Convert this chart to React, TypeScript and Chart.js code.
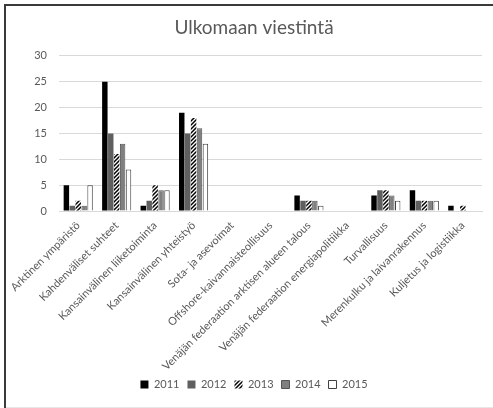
import React, { useEffect, useRef } from "react";
import { Chart, registerables } from "chart.js";

Chart.register(...registerables);

const TITLE = "Ulkomaan viestintä";
const categories = [
  "Arktinen ympäristö",
  "Kahdenväliset suhteet",
  "Kansainvälinen liiketoiminta",
  "Kansainvälinen yhteistyö",
  "Sota- ja asevoimat",
  "Offshore-kaivannaisteollisuus",
  "Venäjän federaation arktisen alueen talous",
  "Venäjän federaation energiapolitiikka",
  "Turvallisuus",
  "Merenkulku ja laivanrakennus",
  "Kuljetus ja logistiikka",
];
const seriesNames = ["2011", "2012", "2013", "2014", "2015"];
const d2011 = [5, 25, 1, 19, 0, 0, 3, 0, 3, 4, 1];
const d2012 = [1, 15, 2, 15, 0, 0, 2, 0, 4, 2, 0];
const d2013 = [2, 11, 5, 18, 0, 0, 2, 0, 4, 2, 1];
const d2014 = [1, 13, 4, 16, 0, 0, 2, 0, 3, 2, 0];
const d2015 = [5, 8, 4, 13, 0, 0, 1, 0, 2, 2, 0];
const yTicks = { min: 0, max: 30, step: 5 };

const FONT = "Lato, 'Open Sans', sans-serif";
const TEXT = "#595959";

function makeHatch(): CanvasPattern | string {
  const c = document.createElement("canvas");
  c.width = 4;
  c.height = 4;
  const g = c.getContext("2d");
  if (!g) return "#000";
  g.fillStyle = "#fff";
  g.fillRect(0, 0, 4, 4);
  g.strokeStyle = "#000";
  g.lineWidth = 1.5;
  g.beginPath();
  g.moveTo(0, 4);
  g.lineTo(4, 0);
  g.moveTo(-1, 1);
  g.lineTo(1, -1);
  g.moveTo(3, 5);
  g.lineTo(5, 3);
  g.stroke();
  return g.createPattern(c, "repeat") || "#000";
}

const framePlugin = {
  id: "frame",
  beforeDraw(chart: any) {
    const ctx = chart.ctx;
    ctx.save();
    ctx.fillStyle = "#fff";
    ctx.fillRect(0, 0, chart.width, chart.height);
    ctx.fillStyle = "#3a3a3a";
    ctx.fillRect(4, 4, 2, chart.height - 4);
    ctx.fillRect(4, 4, chart.width - 4, 2);
    ctx.fillStyle = "#e6e6e6";
    ctx.fillRect(6, chart.height - 1, chart.width - 6, 1);
    ctx.restore();
  },
};

export default function App() {
  const ref = useRef<HTMLCanvasElement>(null);
  useEffect(() => {
    if (!ref.current) return;
    const hatch = makeHatch();
    const values = [d2011, d2012, d2013, d2014, d2015];
    const bg: any[] = ["#000000", "#5f5f5f", hatch, "#808080", "#ffffff"];
    const bc = ["#000000", "#5f5f5f", "#000000", "#555555", "#404040"];
    const bw = [0, 0, 0, 1, 1];
    const chart = new Chart(ref.current, {
      type: "bar",
      data: {
        labels: categories,
        datasets: seriesNames.map((n, i) => ({
          label: n,
          data: values[i],
          backgroundColor: bg[i],
          borderColor: bc[i],
          borderWidth: bw[i],
          categoryPercentage: 0.77,
          barPercentage: 0.92,
        })),
      },
      options: {
        responsive: false,
        animation: false,
        layout: { padding: { left: 26, right: 11, top: 0, bottom: 8 } },
        plugins: {
          title: {
            display: true,
            text: TITLE,
            color: TEXT,
            font: { family: FONT, size: 19, weight: "normal" },
            padding: { top: 16, bottom: 17 },
          },
          legend: {
            position: "bottom",
            labels: {
              color: TEXT,
              font: { family: FONT, size: 11 },
              boxWidth: 8,
              boxHeight: 8,
              padding: 8,
            },
          },
          tooltip: { enabled: false },
        },
        scales: {
          x: {
            grid: { display: false, drawTicks: false },
            border: { display: true, color: "#d9d9d9" },
            ticks: {
              color: TEXT,
              font: { family: FONT, size: 11 },
              minRotation: 45,
              maxRotation: 45,
              autoSkip: false,
              padding: 8,
            },
            afterFit(scale: any) {
              scale.height = 160;
            },
          },
          y: {
            min: yTicks.min,
            max: yTicks.max,
            grid: { color: "#d9d9d9", drawTicks: false },
            border: { display: false },
            ticks: {
              stepSize: yTicks.step,
              color: TEXT,
              font: { family: FONT, size: 11 },
              padding: 12,
            },
            afterFit(scale: any) {
              scale.width = 33;
            },
          },
        },
      },
      plugins: [framePlugin],
    });
    return () => chart.destroy();
  }, []);
  return (
    <div style={{ position: "absolute", left: 0, top: 0, width: 493, height: 408 }}>
      <canvas ref={ref} width={493} height={408} style={{ display: "block" }} />
    </div>
  );
}
